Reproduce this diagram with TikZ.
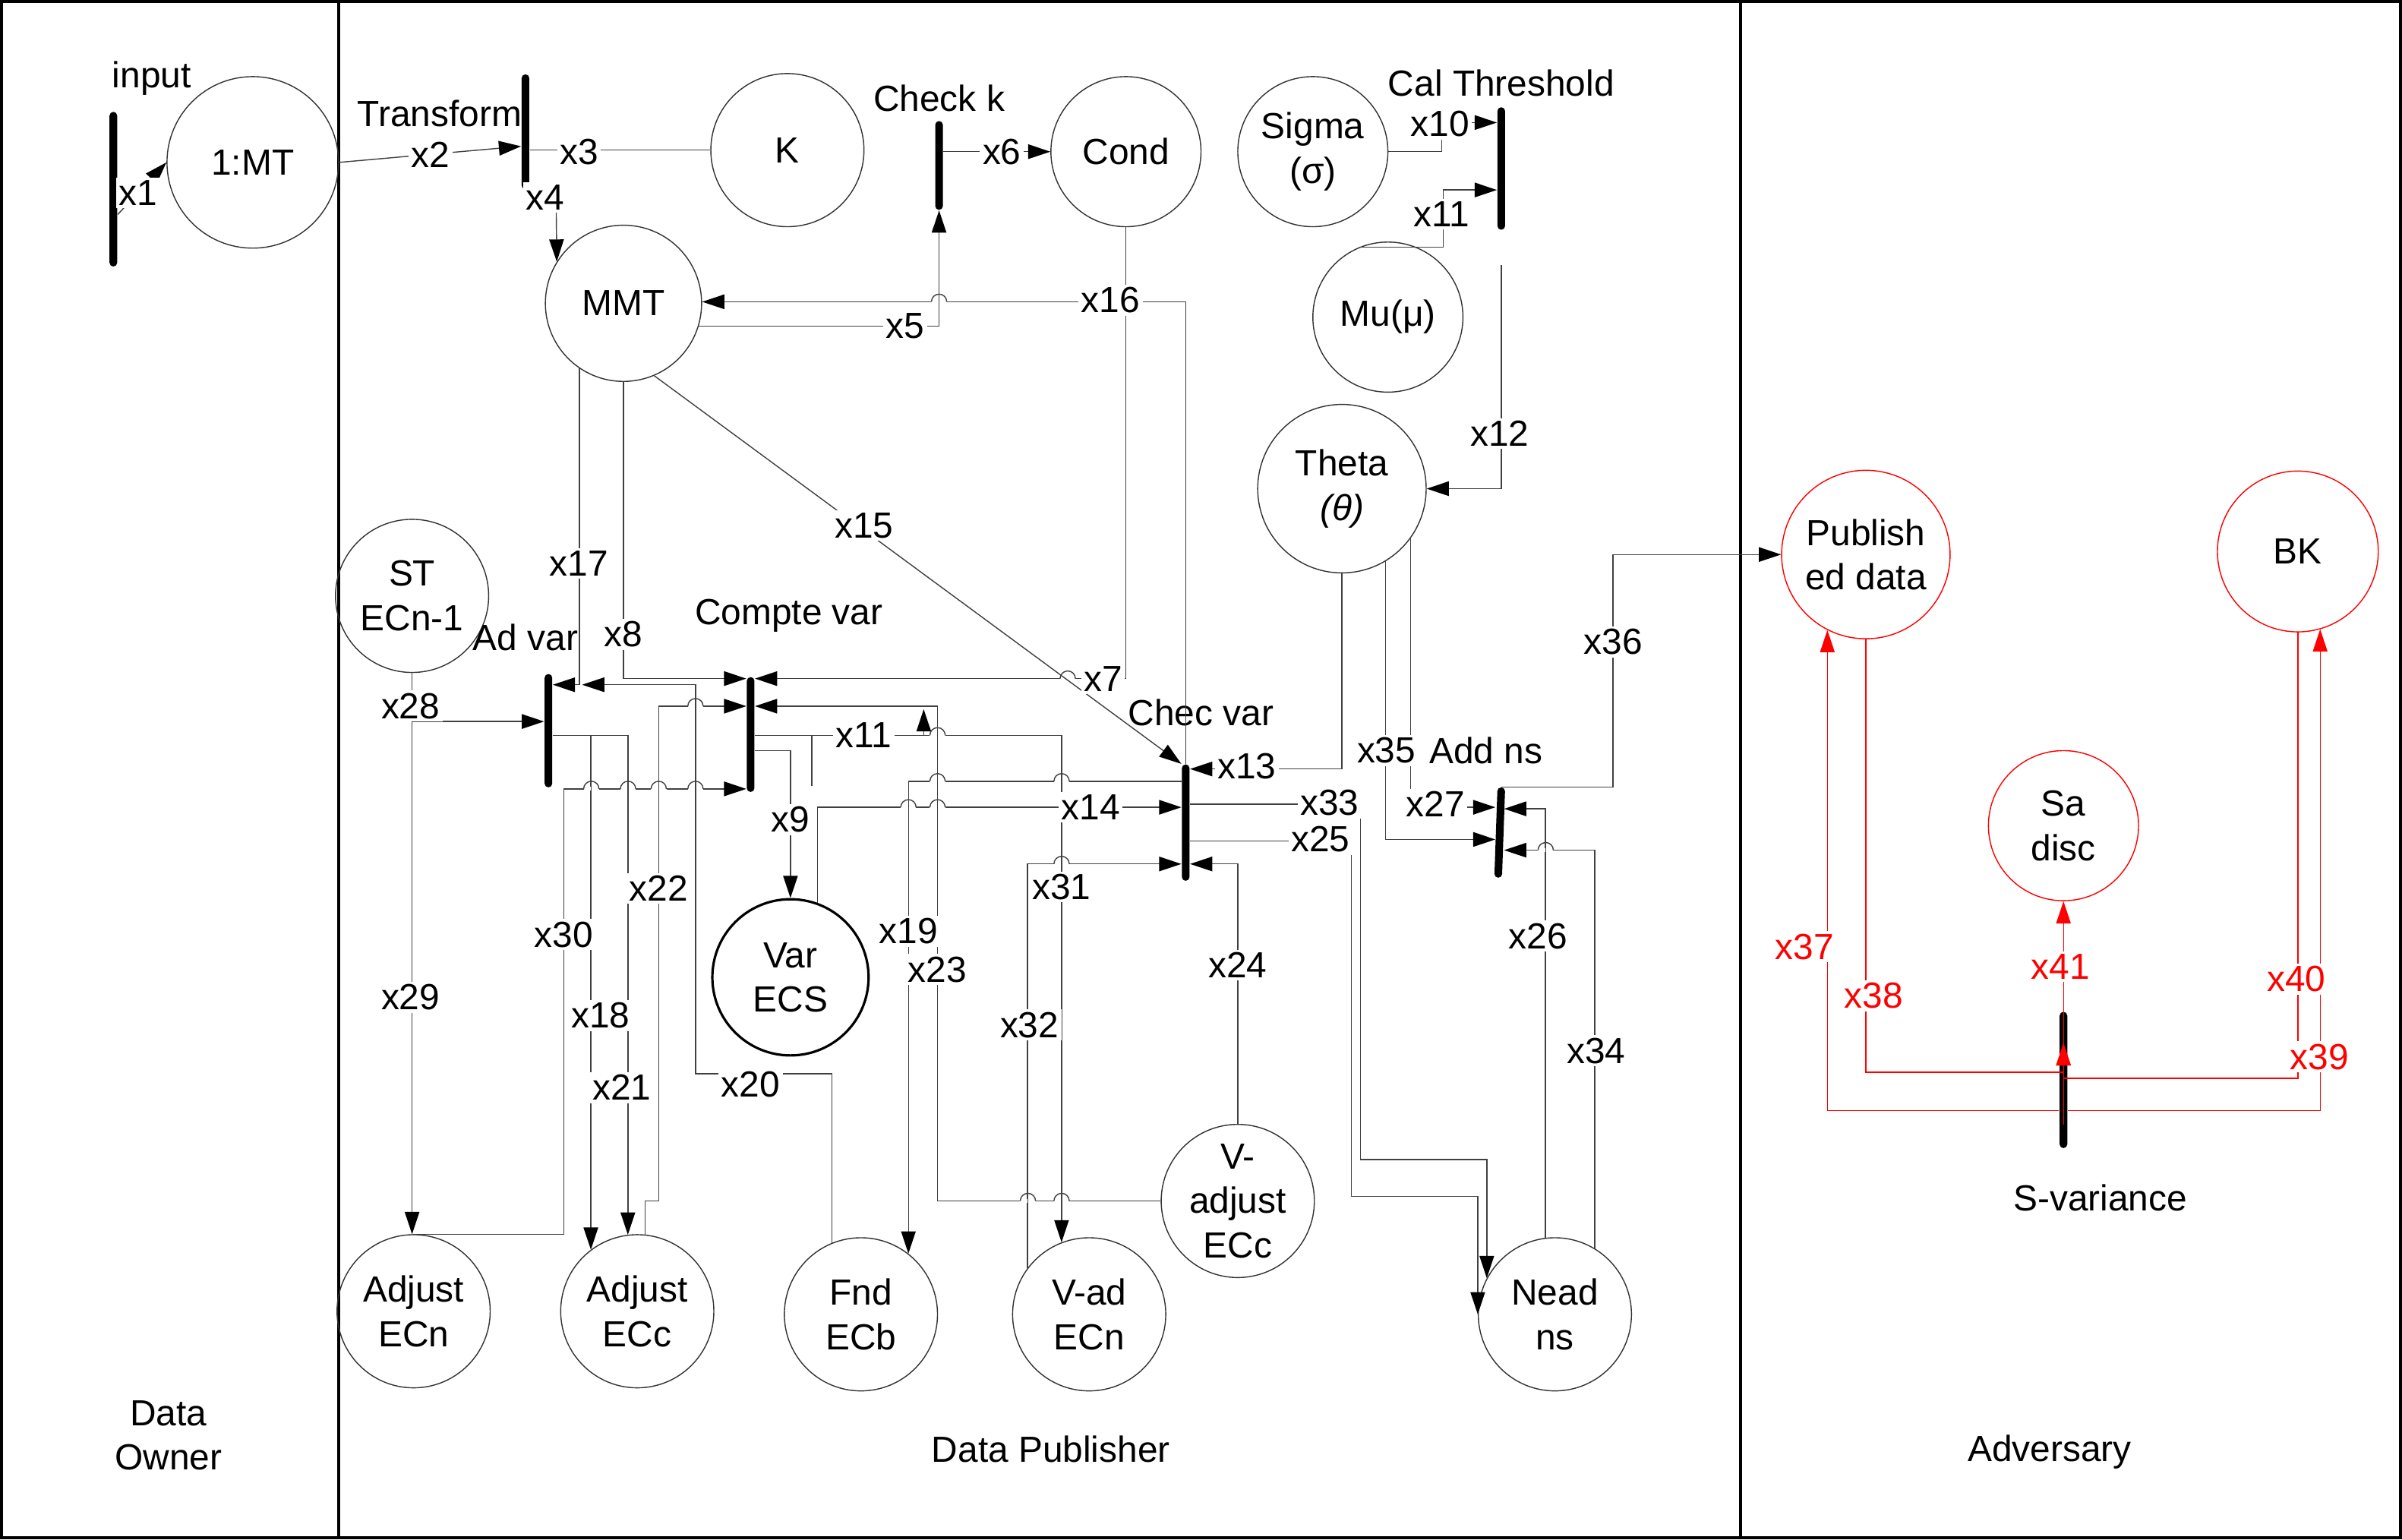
\documentclass[tikz,border=0pt]{standalone}
\usepackage{xcolor}
\usepackage{fontspec}
\setmainfont{Liberation Sans}
\usepackage{tikz}
\usetikzlibrary{arrows.meta}

\tikzset{
  place/.style={circle, draw=black!80, line width=0.4pt, minimum size=#1, inner sep=0pt, align=center},
  rplace/.style={place=#1, draw=red},
  tbar/.style={fill=black, minimum width=0.1cm, minimum height=#1, inner sep=0pt, rounded corners=0.05cm},
  cn/.style={draw=black!75, line width=0.4pt},
  arr/.style={cn, -{Triangle[length=0.29cm, width=0.19cm, color=black]}},
  rarr/.style={draw=red, line width=0.4pt, -{Triangle[length=0.29cm, width=0.19cm]}},
  lbl/.style={fill=white, inner sep=1pt},
  frame/.style={line width=1.1pt}
}

\newcommand{\linehop}[2]{%
  \fill[white] (#1-5,#2-1.2) rectangle (#1+5,#2+1.2);
  \draw[cn] (#1,#2-7) -- (#1,#2+7);
  \draw[cn] (#1-5,#2) arc[start angle=180, end angle=0, radius=0.1cm];
}

\begin{document}
\begin{tikzpicture}[x=0.02cm, y=-0.02cm, font=\fontsize{13.5}{16.5}\selectfont]
\useasboundingbox (0,0) rectangle (1568,1005);
\draw[frame] (1,1) rectangle (1567,1004);
\draw[frame] (221,1) -- (221,1004);
\draw[frame] (1136,1) -- (1136,1004);

\node[align=center] (owner) at (110,937) {Data\\Owner};
\node (publisher) at (686,946) {Data Publisher};
\node (adversary) at (1338,948) {Adversary};

\node[place=2.24cm] (mt) at (165,106) {1:MT};
\node[place=2cm] (k) at (514,98) {K};
\node[place=1.96cm] (cond) at (735,99) {Cond};
\node[place=1.96cm] (sigma) at (857,99) {Sigma\\(σ)};
\node[place=1.96cm] (mu) at (906,207) {Mu(μ)};
\node[place=2.04cm] (mmt) at (407,198) {MMT};
\node[place=2.2cm] (theta) at (876,319) {Theta\\\textit{(θ)}};
\node[place=2cm] (st) at (269,389) {ST\\ECn-1};
\node[place=2.04cm, line width=0.9pt, draw=black] (varecs) at (516,638) {Var\\ECS};
\node[place=2cm] (adjn) at (270,856) {Adjust\\ECn};
\node[place=2cm] (adjc) at (416,856) {Adjust\\ECc};
\node[place=2cm] (fnd) at (562,858) {Fnd\\ECb};
\node[place=2cm] (vadn) at (711,858) {V-ad\\ECn};
\node[place=2cm] (vadjc) at (808,784) {V-\\adjust\\ECc};
\node[place=2cm] (nead) at (1015,858) {Nead\\ns};
\node[rplace=2.2cm] (pub) at (1218,362) {Publish\\ed data};
\node[rplace=2.1cm] (bk) at (1500,360) {BK};
\node[rplace=1.96cm] (sadisc) at (1347,539) {Sa\\disc};

\node[tbar=2.02cm] (tinput) at (74,123.5) {};
\node[tbar=1.5cm] (ttrans) at (343,86) {};
\node[tbar=1.16cm] (tcheck) at (613,108) {};
\node[tbar=1.6cm] (tcal) at (980,110) {};
\node[tbar=1.48cm] (tadvar) at (358,477) {};
\node[tbar=1.5cm] (tcompte) at (490,479.5) {};
\node[tbar=1.52cm] (tchec) at (774,537) {};
\node[tbar=1.18cm, rotate=-2] (taddns) at (979,543.5) {};
\node[tbar=1.78cm] (tsvar) at (1347,705) {};

\node (linput) at (99,51) {input};
\node (ltrans) at (287,74) {Transform};
\node (lcheck) at (613,64) {Check k};
\node (lcal) at (980,54) {Cal Threshold};
\node (ladvar) at (343,416) {Ad var};
\node (lcompte) at (515,402) {Compte var};
\node (lchec) at (784,465) {Chec var};
\node (laddns) at (970,490) {Add ns};
\node (lsvar) at (1371,782) {S-variance};

\coordinate (x12s) at (980,173);
\coordinate (x11j) at (603,463);
\coordinate (x20j) at (380,447);

\draw[arr] (tinput.east |- 0,140) -- (mt.west);
\draw[arr] (mt.east) -- (ttrans.west |- 0,95.5);
\draw[cn] (ttrans.east |- 0,98) -- (k.west);
\draw[arr] (ttrans.south) |- (363,130) -- (mmt.148);
\draw[arr] (mmt.-17) -| (tcheck.south);
\draw[arr] (tcheck.east |- cond.west) -- (cond.west);
\draw[arr] (cond.south) |- (tcompte.east |- 0,443);
\draw[arr] (mmt.south) |- (tcompte.west |- 0,443);
\draw[arr] (tcompte.east |- 0,490) -| (varecs.north);
\draw[arr] (sigma.east) -| (941,80) -- (tcal.west |- 0,80);
\draw[arr] (mu.112) -| (942,124) -- (tcal.west |- 0,124);
\draw[arr] (tcompte.east |- 0,480) -- (530,480) -- (530,513) (530,480) -| (x11j);
\draw[arr] (x12s) |- (theta.east);
\draw[arr] (theta.south) |- (tchec.east |- 0,502);
\draw[arr] (varecs.70) |- (tchec.west |- 0,527);
\draw[arr] (tchec.north) |- (mmt.east |- 0,197);
\draw[arr] (mmt.-124) |- (tadvar.east |- 0,447);
\draw[arr] (tadvar.east |- 0,480) -| (adjc.127);
\draw[arr] (tchec.west |- 0,510) -| (fnd.52);
\draw[arr] (fnd.112) |- (454,701) |- (x20j);
\draw[arr] (tadvar.east |- 0,480) -| (adjc.97);
\draw[arr] (adjc.84) |- (430,784) |- (tcompte.west |- 0,461);
\draw[arr] (vadjc.west) -| (612,461) -- (tcompte.east |- 0,461);
\draw[arr] (vadjc.north) |- (tchec.east |- 0,564);
\draw[arr] (tchec.east |- 0,549) -| (882,781) -| (nead.west);
\draw[arr] (nead.97) |- (taddns.east |- 0,528);
\draw[arr] (theta.-36) |- (taddns.west |- 0,527);
\draw[arr] (st.south) |- (tadvar.west |- 0,471);
\draw[arr] (st.south) -- (st.south |- adjn.north);
\draw[arr] (adjn.north) -| (368,515) -- (tcompte.west |- 0,515);
\draw[arr] (x11j |- 0,480) -| (vadn.111);
\draw[arr] (vadn.143) |- (tchec.west |- 0,564);
\draw[arr] (tchec.east |- 0,525) -| (888,757) -| (nead.152);
\draw[arr] (nead.59) |- (taddns.east |- 0,555);
\draw[arr] (theta.-59) |- (taddns.west |- 0,548);
\draw[arr] (taddns.north) -| (1053,440) |- (pub.west);

\draw[rarr] (tsvar.west |- 0,725) -| (pub.-117);
\draw[rarr] (pub.south) |- (tsvar.center |- 0,700) -- (tsvar.center |- 0,681);
\draw[rarr] (tsvar.east |- 0,725) -| (bk.-74);
\draw[rarr] (bk.south) |- (tsvar.center |- 0,704) -- (tsvar.center |- 0,681);
\draw[rarr] (tsvar.center |- 0,734) -- (sadisc.south);

\foreach \hx/\hy in {613/197, 454/461, 386/515, 410/515, 430/515, 454/515, 612/480, 612/510, 693/510, 593/527, 612/527, 693/564, 671/784, 693/784, 1009/555}
  \linehop{\hx}{\hy};
\fill[white] (692,441.8) rectangle (702,444.2);
\draw[cn] (692,443) arc[start angle=180, end angle=0, radius=0.1cm];
\draw[arr] (mmt.-67) -- (tchec.north west);

\foreach \lab/\lx/\ly [count=\i] in {x1/90/126, x2/281/101, x3/378/99, x4/356/129, x5/591/213, x6/654/99, x7/720/443, x8/407/414, x9/516/535, x10/940/81, x11/941/140, x11/564/480, x12/979/283, x13/814/500, x14/712/527, x15/564/343, x16/725/196, x17/378/368, x18/392/663, x19/593/608, x20/490/708, x21/406/710, x22/430/580, x23/612/633, x24/808/630, x25/862/548, x26/1004/611, x27/937/525, x28/268/461, x29/268/651, x30/368/610, x31/693/579, x32/672/669, x33/868/524, x34/1042/686, x35/905/490, x36/1053/419}
  \node[lbl] (lab\i) at (\lx,\ly) {\lab};
\foreach \lab/\lx/\ly [count=\i] in {x37/1178/618, x38/1223/650, x39/1514/690, x40/1499/639, x41/1345/631}
  \node[lbl, text=red] (rlab\i) at (\lx,\ly) {\lab};
\end{tikzpicture}
\end{document}
